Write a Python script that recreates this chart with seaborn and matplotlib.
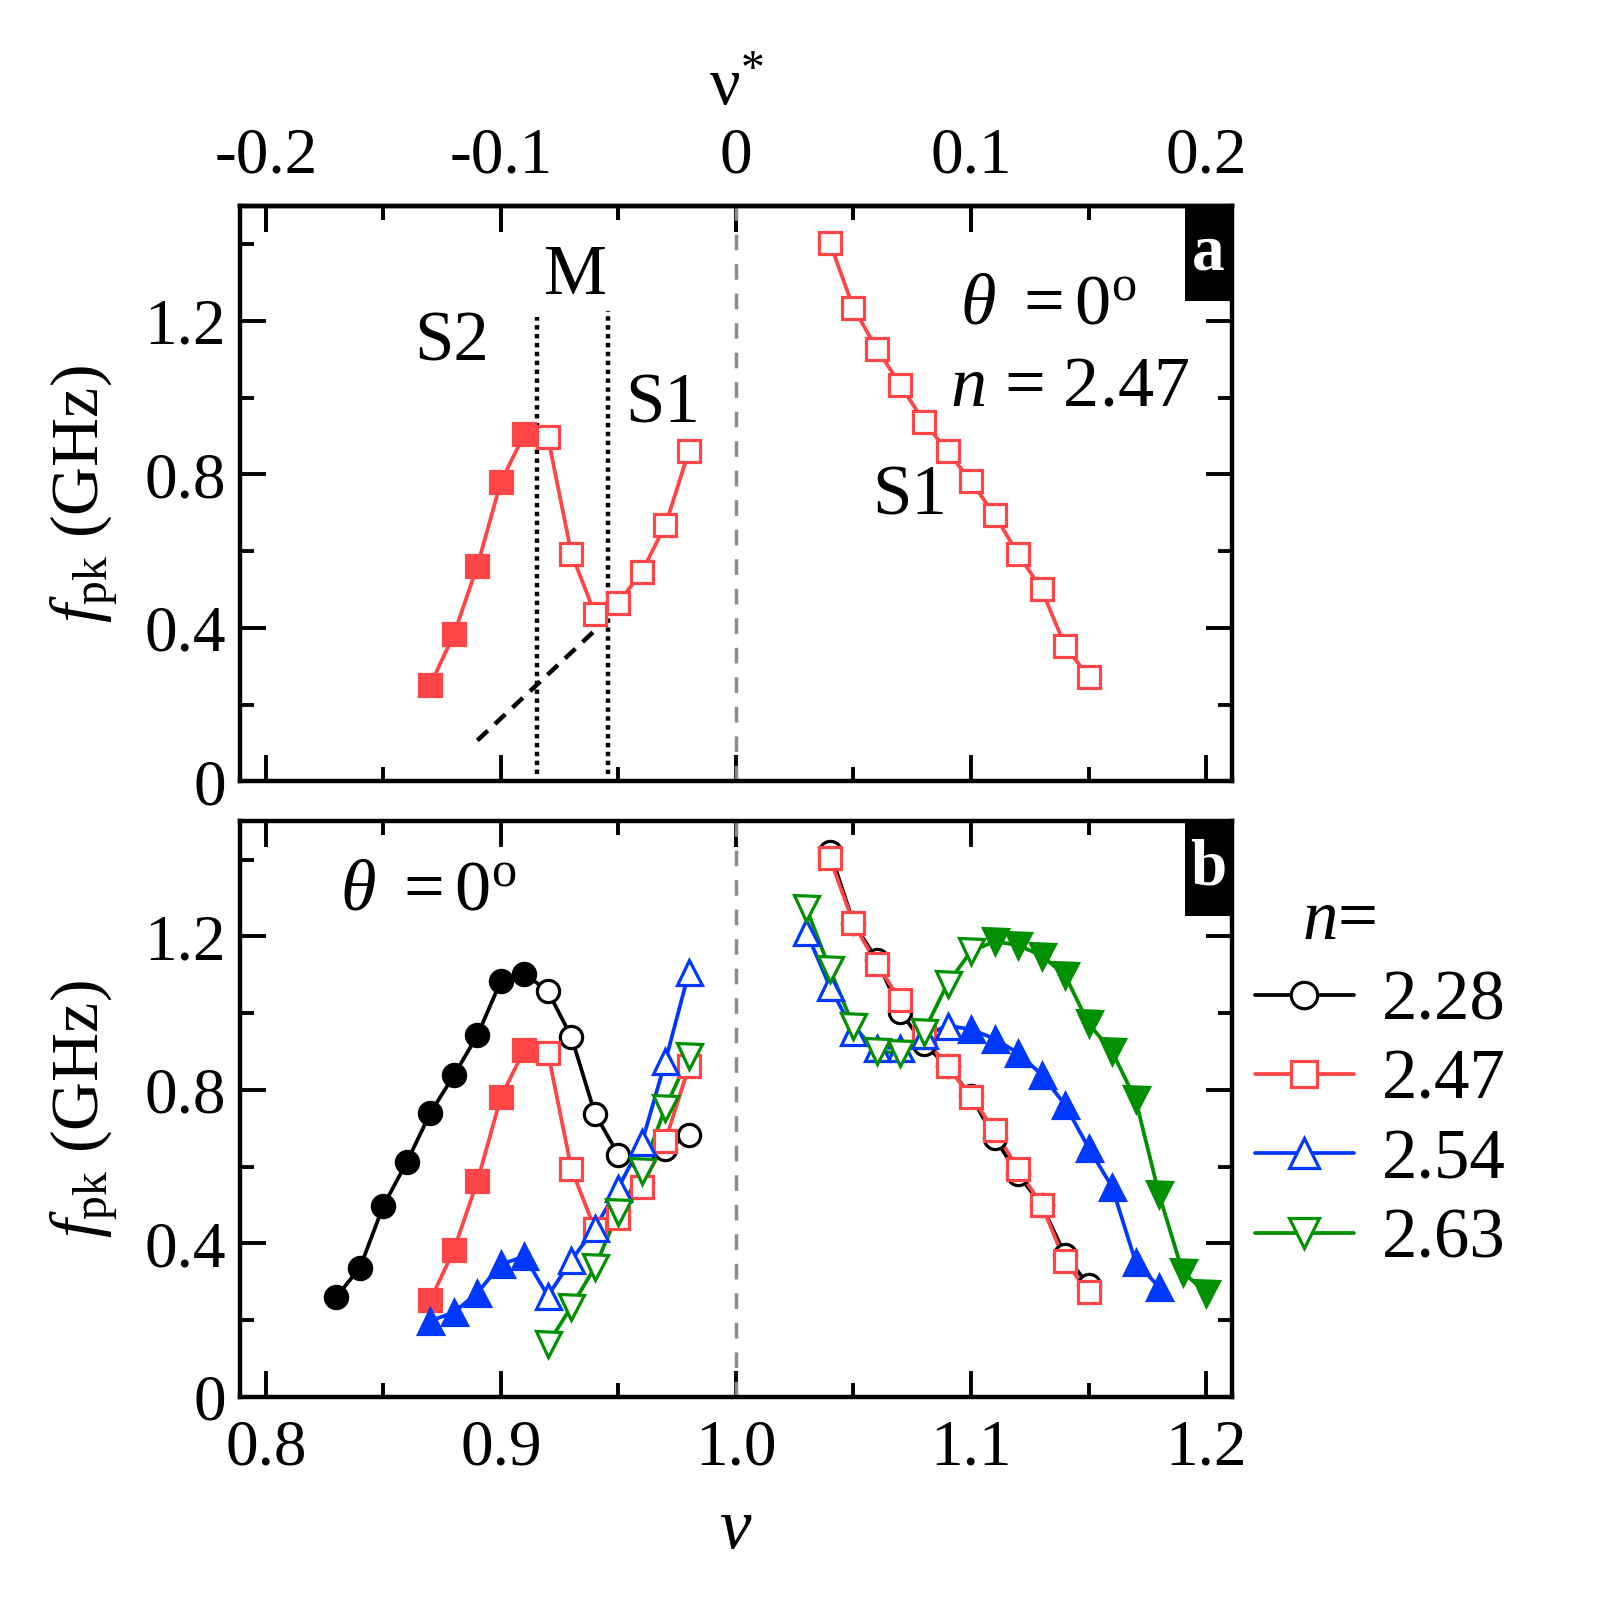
import numpy as np
import pandas as pd
import seaborn as sns
import matplotlib.pyplot as plt
from matplotlib.lines import Line2D
from matplotlib.patches import Rectangle
from matplotlib.ticker import MultipleLocator, FixedLocator

# ---- data ----
n_values = ["2.28", "2.47", "2.54", "2.63"]

nu_228_left = [0.83, 0.84, 0.85, 0.86, 0.87, 0.88, 0.89, 0.90, 0.91, 0.92, 0.93, 0.94, 0.95, 0.96, 0.97, 0.98]
f_228_left = [0.261, 0.336, 0.498, 0.612, 0.740, 0.838, 0.942, 1.084, 1.103, 1.057, 0.938, 0.738, 0.631, 0.620, 0.645, 0.682]
filled_228_left = [1, 1, 1, 1, 1, 1, 1, 1, 1, 0, 0, 0, 0, 0, 0, 0]
nu_228_right = [1.04, 1.05, 1.06, 1.07, 1.08, 1.09, 1.10, 1.11, 1.12, 1.13, 1.14, 1.15]
f_228_right = [1.421, 1.235, 1.138, 1.003, 0.919, 0.862, 0.784, 0.675, 0.580, 0.500, 0.370, 0.291]
filled_228_right = [0] * 12

nu_247_left = [0.87, 0.88, 0.89, 0.90, 0.91, 0.92, 0.93, 0.94, 0.95, 0.96, 0.97, 0.98]
f_247_left = [0.252, 0.383, 0.562, 0.781, 0.905, 0.897, 0.594, 0.437, 0.466, 0.547, 0.668, 0.861]
filled_247_left = [1, 1, 1, 1, 1, 0, 0, 0, 0, 0, 0, 0]
nu_247_right = [1.04, 1.05, 1.06, 1.07, 1.08, 1.09, 1.10, 1.11, 1.12, 1.13, 1.14, 1.15]
f_247_right = [1.403, 1.234, 1.127, 1.033, 0.937, 0.861, 0.782, 0.695, 0.593, 0.501, 0.353, 0.273]
filled_247_right = [0] * 12

nu_254_left = [0.87, 0.88, 0.89, 0.90, 0.91, 0.92, 0.93, 0.94, 0.95, 0.96, 0.97, 0.98]
f_254_left = [0.198, 0.220, 0.271, 0.345, 0.366, 0.263, 0.356, 0.440, 0.545, 0.663, 0.875, 1.107]
filled_254_left = [1, 1, 1, 1, 1, 0, 0, 0, 0, 0, 0, 0]
nu_254_right = [1.03, 1.04, 1.05, 1.06, 1.07, 1.08, 1.09, 1.10, 1.11, 1.12, 1.13, 1.14, 1.15, 1.16, 1.17, 1.18]
f_254_right = [1.211, 1.068, 0.952, 0.910, 0.910, 0.942, 0.967, 0.958, 0.933, 0.896, 0.840, 0.761, 0.649, 0.547, 0.352, 0.286]
filled_254_right = [0, 0, 0, 0, 0, 0, 0, 1, 1, 1, 1, 1, 1, 1, 1, 1]

nu_263_left = [0.92, 0.93, 0.94, 0.95, 0.96, 0.97, 0.98]
f_263_left = [0.138, 0.235, 0.338, 0.482, 0.589, 0.754, 0.887]
filled_263_left = [0] * 7
nu_263_right = [1.03, 1.04, 1.05, 1.06, 1.07, 1.08, 1.09, 1.10, 1.11, 1.12, 1.13, 1.14, 1.15, 1.16, 1.17, 1.18, 1.19, 1.20]
f_263_right = [1.273, 1.114, 0.966, 0.900, 0.896, 0.952, 1.077, 1.161, 1.187, 1.177, 1.150, 1.099, 0.973, 0.900, 0.775, 0.528, 0.326, 0.271]
filled_263_right = [0, 0, 0, 0, 0, 0, 0, 0, 1, 1, 1, 1, 1, 1, 1, 1, 1, 1]

# phase boundaries in panel a
nu_boundaries = [0.9154, 0.9455]
f_boundary_top = [1.21, 1.225]
nu_guide = [0.890, 0.942]
f_guide = [0.107, 0.405]

nu_star_ticks = [-0.2, -0.1, 0.0, 0.1, 0.2]

# ---- long-form table ----
rows = []
series = {
    "2.28": [(nu_228_left, f_228_left, filled_228_left), (nu_228_right, f_228_right, filled_228_right)],
    "2.47": [(nu_247_left, f_247_left, filled_247_left), (nu_247_right, f_247_right, filled_247_right)],
    "2.54": [(nu_254_left, f_254_left, filled_254_left), (nu_254_right, f_254_right, filled_254_right)],
    "2.63": [(nu_263_left, f_263_left, filled_263_left), (nu_263_right, f_263_right, filled_263_right)],
}
for n, branches in series.items():
    for side, (nu, f, fl) in zip(["left", "right"], branches):
        for a, b, c in zip(nu, f, fl):
            rows.append({"nu": a, "f": b, "n": n, "side": side, "filled": bool(c)})
df = pd.DataFrame(rows)

colors = {"2.28": "black", "2.47": "#ff4545", "2.54": "#0038ff", "2.63": "#009000"}
markers = {"2.28": "o", "2.47": "s", "2.54": "^", "2.63": "v"}
msizes = {"2.28": 16, "2.47": 15.5, "2.54": 18, "2.63": 18}

sns.set_theme(style="ticks")
plt.rcParams["font.family"] = ["Liberation Serif", "DejaVu Serif"]
plt.rcParams["mathtext.fontset"] = "custom"
plt.rcParams["mathtext.rm"] = "Liberation Serif"
plt.rcParams["mathtext.it"] = "Liberation Serif:italic"
plt.rcParams["mathtext.bf"] = "Liberation Serif:bold"
for key in ["text.color", "axes.labelcolor", "xtick.color", "ytick.color", "axes.edgecolor"]:
    plt.rcParams[key] = "black"

FS = 47
LW = 2.7

fig = plt.figure(figsize=(16.15, 16.0), dpi=100)
ax1 = fig.add_axes([0.1486, 0.5116, 0.6142, 0.3597])
ax2 = fig.add_axes([0.1486, 0.1270, 0.6142, 0.3597])


def draw_series(ax, n):
    sub = df[df["n"] == n]
    c = colors[n]
    for side, part in sub.groupby("side"):
        sns.lineplot(data=part, x="nu", y="f", ax=ax, color=c, lw=LW,
                     estimator=None, sort=False, zorder=2)
        sns.lineplot(data=part[~part["filled"]], x="nu", y="f", ax=ax, color=c,
                     linestyle="none", marker=markers[n], markersize=msizes[n],
                     markerfacecolor="white", markeredgecolor=c,
                     markeredgewidth=2.3, estimator=None, zorder=3)
        if part["filled"].any():
            sns.lineplot(data=part[part["filled"]], x="nu", y="f", ax=ax, color=c,
                         linestyle="none", marker=markers[n], markersize=msizes[n],
                         markerfacecolor=c, markeredgecolor=c,
                         markeredgewidth=2.3, estimator=None, zorder=3)


def style_axes(ax, bottom_labels):
    ax.set_xlim(0.789, 1.211)
    ax.set_ylim(0, 1.5)
    ax.xaxis.set_major_locator(MultipleLocator(0.1))
    ax.xaxis.set_minor_locator(MultipleLocator(0.05))
    ax.yaxis.set_major_locator(MultipleLocator(0.4))
    ax.yaxis.set_minor_locator(MultipleLocator(0.2))
    ax.tick_params(which="both", direction="in", top=True, right=True, width=2.8)
    ax.tick_params(which="major", length=19)
    ax.tick_params(which="minor", length=10)
    ax.tick_params(axis="y", labelsize=FS, pad=10)
    ax.tick_params(axis="x", labelsize=FS, pad=16, labelbottom=bottom_labels)
    ax.yaxis.set_major_formatter(plt.FuncFormatter(lambda v, p: "0" if v == 0 else f"{v:.1f}"))
    ax.xaxis.set_major_formatter(plt.FuncFormatter(lambda v, p: f"{v:.1f}"))
    for s in ax.spines.values():
        s.set_linewidth(3.2)
    ax.axvline(1.0, color="0.55", lw=2.5, ls=(0, (4.5, 4)), zorder=1)
    ax.set_xlabel("")
    ax.set_ylabel(r"$f_{\mathrm{pk}}$ (GHz)", fontsize=FS + 2, labelpad=18)


# panel a
draw_series(ax1, "2.47")
style_axes(ax1, False)
for xb, yt in zip(nu_boundaries, f_boundary_top):
    ax1.plot([xb, xb], [0.02, yt], color="black", lw=3.2, ls=(0, (1, 1.0)), zorder=1)
ax1.plot(nu_guide, f_guide, color="black", lw=3.2, ls=(0, (3.2, 2.2)), zorder=1)
ax1.text(0.879, 1.144, "S2", fontsize=FS + 4, ha="center", va="center")
ax1.text(0.9317, 1.316, "M", fontsize=FS + 4, ha="center", va="center")
ax1.text(0.969, 0.98, "S1", fontsize=FS + 4, ha="center", va="center")
ax1.text(1.074, 0.741, "S1", fontsize=FS + 4, ha="center", va="center")
ax1.text(1.133, 1.238, r"$\theta\ =0^{\mathrm{o}}$", fontsize=FS + 5, ha="center", va="center")
ax1.text(1.142, 1.025, r"$n$ = 2.47", fontsize=FS + 5, ha="center", va="center")

top = ax1.secondary_xaxis("top", functions=(lambda x: x - 1, lambda x: x + 1))
top.xaxis.set_major_locator(FixedLocator(nu_star_ticks))
top.xaxis.set_minor_locator(MultipleLocator(0.05))
top.tick_params(which="both", direction="in", width=2.8, labelsize=FS, pad=14)
top.tick_params(which="major", length=19)
top.tick_params(which="minor", length=10)
top.xaxis.set_major_formatter(plt.FuncFormatter(lambda v, p: "0" if abs(v) < 1e-9 else f"{v:.1f}"))
top.set_xlabel("ν$^{*}$", fontsize=FS + 2, labelpad=16)
top.spines["top"].set_linewidth(3.2)

# panel b
for n in n_values:
    draw_series(ax2, n)
style_axes(ax2, True)
ax2.set_xlabel(r"$\nu$", fontsize=FS + 4, labelpad=14)
ax2.text(0.869, 1.315, r"$\theta\ =0^{\mathrm{o}}$", fontsize=FS + 5, ha="center", va="center")

# panel letters
for ax, letter in [(ax1, "a"), (ax2, "b")]:
    ax.add_patch(Rectangle((0.953, 0.835), 0.047, 0.165, transform=ax.transAxes,
                           facecolor="black", edgecolor="none", zorder=5))
    ax.text(0.9765, 0.918, letter, transform=ax.transAxes, color="white",
            fontsize=FS, fontweight="bold", ha="center", va="center", zorder=6)

# legend
handles = [Line2D([], [], color=colors[n], lw=LW, marker=markers[n],
                  markersize=msizes[n] + 3, markerfacecolor="white",
                  markeredgecolor=colors[n], markeredgewidth=2.3) for n in n_values]
fig.legend(handles, n_values, loc="upper left", bbox_to_anchor=(0.755, 0.416),
           frameon=False, fontsize=FS + 4, handlelength=1.4, handletextpad=0.4,
           labelspacing=0.2, borderpad=0)
fig.text(0.829, 0.424, r"$n$=", fontsize=FS + 4, ha="center", va="center")

fig.savefig("out.png", dpi=100)
plt.close(fig)
